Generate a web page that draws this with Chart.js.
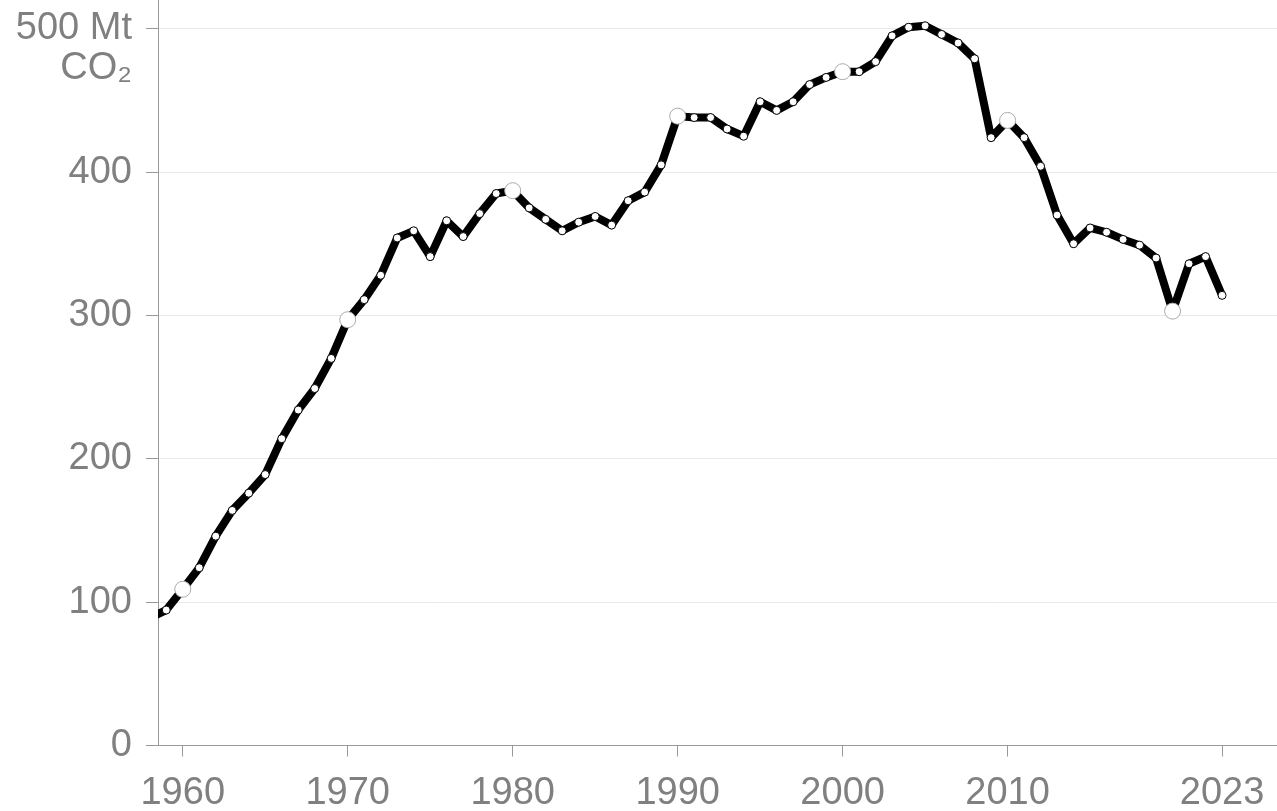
<!DOCTYPE html>
<html>
<head>
<meta charset="utf-8">
<script src="https://cdn.jsdelivr.net/npm/chart.js@4/dist/chart.umd.min.js"></script>
<style>
  html, body { margin: 0; padding: 0; background: #fff; }
  #wrap { width: 1277px; height: 811px; position: relative; }
</style>
</head>
<body>
<div id="wrap"><canvas id="co2Chart"></canvas></div>
<script>
// datos
const years = [
  1958, 1959, 1960, 1961, 1962, 1963, 1964, 1965, 1966, 1967,
  1968, 1969, 1970, 1971, 1972, 1973, 1974, 1975, 1976, 1977,
  1978, 1979, 1980, 1981, 1982, 1983, 1984, 1985, 1986, 1987,
  1988, 1989, 1990, 1991, 1992, 1993, 1994, 1995, 1996, 1997,
  1998, 1999, 2000, 2001, 2002, 2003, 2004, 2005, 2006, 2007,
  2008, 2009, 2010, 2011, 2012, 2013, 2014, 2015, 2016, 2017,
  2018, 2019, 2020, 2021, 2022, 2023
];
const emissions = [
  89, 94.5, 109, 124, 146, 164, 176, 189, 214, 234,
  249, 270, 297, 311, 328, 354, 359, 341, 366, 355,
  371, 385, 387, 375, 367, 359, 365, 369, 363, 380,
  386, 405, 439, 438, 438, 430, 425, 449, 443, 449,
  461, 466, 470, 470, 477, 495, 501, 502, 496, 490,
  479, 424, 436, 424, 404, 370, 350, 361, 358, 353,
  349, 340, 303, 336, 341, 314
];
const highlightYears = [1960, 1970, 1980, 1990, 2000, 2010, 2020];
const xTicks = [1960, 1970, 1980, 1990, 2000, 2010, 2023];
const yTicks = [0, 100, 200, 300, 400, 500];

const labelColor = "#808080";
const axisColor = "#999999";

const isBig = (ctx) => highlightYears.includes(years[ctx.dataIndex]);

new Chart(document.getElementById("co2Chart"), {
  type: "line",
  data: {
    datasets: [{
      data: years.map((y, i) => ({ x: y, y: emissions[i] })),
      borderColor: "#000",
      borderWidth: 8,
      borderJoinStyle: "round",
      tension: 0,
      clip: 0,
      pointRadius: (ctx) => isBig(ctx) ? 8 : 4,
      pointBackgroundColor: "#fff",
      pointBorderColor: (ctx) => isBig(ctx) ? "#aaaaaa" : "#000",
      pointBorderWidth: 1
    }]
  },
  options: {
    responsive: true,
    maintainAspectRatio: false,
    animation: false,
    layout: { padding: 0, autoPadding: false },
    plugins: {
      legend: { display: false },
      tooltip: { enabled: false }
    },
    scales: {
      x: {
        type: "linear",
        min: 1958.5,
        max: 2026.33,
        afterBuildTicks: (scale) => { scale.ticks = xTicks.map(v => ({ value: v })); },
        afterFit: (scale) => {
          scale.height = 65.5;
          scale.paddingLeft = 0;
          scale.paddingRight = 0;
        },
        ticks: {
          color: labelColor,
          font: { family: "'Liberation Sans', Arial, sans-serif", size: 38, lineHeight: 1.05 },
          padding: 17,
          maxRotation: 0,
          autoSkip: false,
          callback: (v) => String(v)
        },
        grid: {
          display: true,
          drawOnChartArea: false,
          drawTicks: true,
          tickLength: 11,
          color: axisColor,
          tickColor: axisColor
        },
        border: { display: true, color: axisColor, width: 1 }
      },
      y: {
        min: 0,
        max: 520,
        afterBuildTicks: (scale) => { scale.ticks = yTicks.map(v => ({ value: v })); },
        afterFit: (scale) => {
          scale.width = 158;
          scale.paddingTop = 0;
          scale.paddingBottom = 0;
        },
        ticks: {
          color: labelColor,
          font: { family: "'Liberation Sans', Arial, sans-serif", size: 38, lineHeight: 1.05 },
          padding: 14,
          autoSkip: false,
          callback: (v) => v === 500 ? ["", "500 Mt", "CO₂"] : String(v)
        },
        grid: {
          color: "#e8e8e8",
          tickColor: axisColor,
          tickLength: 12,
          drawTicks: true
        },
        border: { display: true, color: axisColor, width: 1 }
      }
    }
  }
});
</script>
</body>
</html>
